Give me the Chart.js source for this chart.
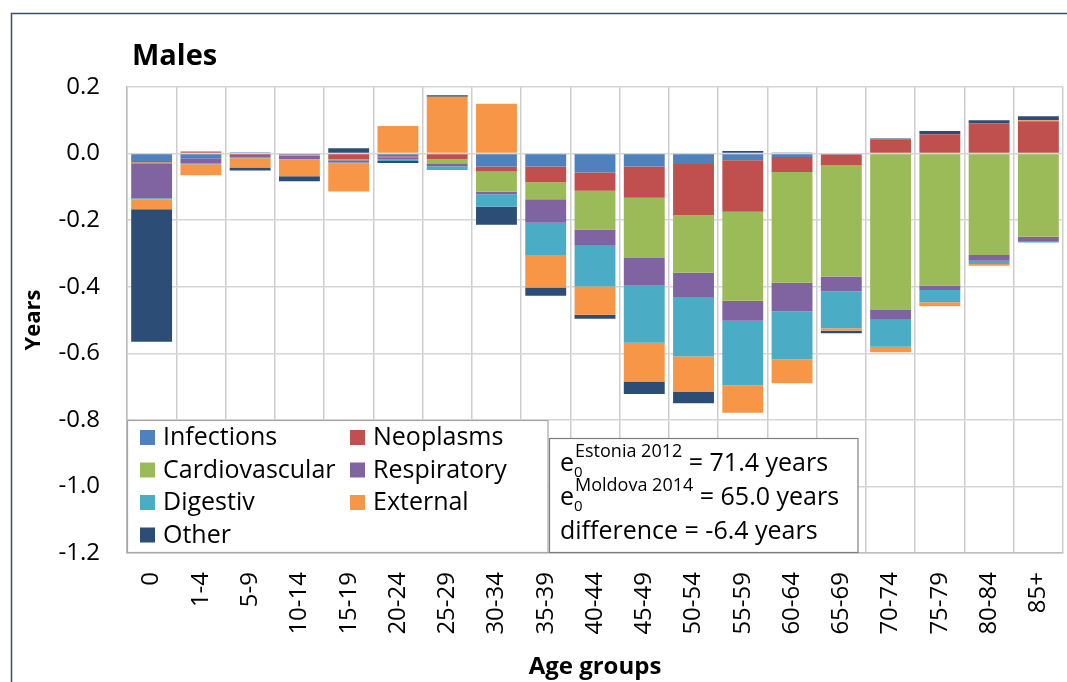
<!DOCTYPE html>
<html>
<head>
<meta charset="utf-8">
<script src="https://cdn.jsdelivr.net/npm/chart.js@4.4.1/dist/chart.umd.min.js"></script>
<style>
  body { margin: 0; background: #fff; }
  canvas { display: block; }
</style>
</head>
<body>
<canvas id="chart" width="1067" height="682"></canvas>
<script>
// categorias del eje x
const ageGroups = ["0", "1-4", "5-9", "10-14", "15-19", "20-24", "25-29", "30-34", "35-39", "40-44",
  "45-49", "50-54", "55-59", "60-64", "65-69", "70-74", "75-79", "80-84", "85+"];

// contribucion de cada causa (años)
const infections = [-0.025, -0.014, 0.004, -0.003, -0.002, -0.008, 0, -0.039, -0.039, -0.057,
  -0.039, -0.031, -0.020, -0.010, -0.003, 0, 0, 0, 0];
const neoplasms = [-0.002, 0.006, -0.004, -0.002, -0.014, -0.004, -0.017, -0.015, -0.047, -0.055,
  -0.094, -0.154, -0.155, -0.045, -0.031, 0.043, 0.058, 0.090, 0.097];
const cardiovascular = [-0.002, 0, 0, -0.002, -0.004, 0, -0.014, -0.061, -0.051, -0.116,
  -0.181, -0.173, -0.267, -0.333, -0.335, -0.470, -0.396, -0.305, -0.250];
const respiratory = [-0.105, -0.016, -0.008, -0.009, -0.007, -0.006, -0.007, -0.007, -0.071, -0.049,
  -0.081, -0.075, -0.060, -0.086, -0.045, -0.029, -0.014, -0.017, -0.015];
const digestiv = [-0.003, -0.002, -0.002, -0.001, -0.002, -0.004, -0.011, -0.038, -0.097, -0.122,
  -0.173, -0.177, -0.194, -0.145, -0.111, -0.081, -0.037, -0.010, -0.002];
const external = [-0.030, -0.033, -0.028, -0.051, -0.085, 0.083, 0.171, 0.150, -0.097, -0.085,
  -0.117, -0.106, -0.083, -0.071, -0.007, -0.017, -0.012, -0.005, 0.003];
const other = [-0.398, 0, -0.009, -0.015, 0.016, -0.006, 0.004, -0.054, -0.025, -0.012,
  -0.037, -0.034, 0.008, 0.002, -0.008, 0.002, 0.010, 0.010, 0.012];

// marcas del eje y
const yTicks = [0.2, 0.0, -0.2, -0.4, -0.6, -0.8, -1.0, -1.2];

// textos del cuadro de esperanza de vida
const e0Lines = [
  { country: "Estonia 2012", value: "= 71.4 years" },
  { country: "Moldova 2014", value: "= 65.0 years" },
];
const diffText = "difference = -6.4 years";

const FONT = '"Open Sans", "DejaVu Sans", sans-serif';

// marco exterior y titulo
const framePlugin = {
  id: "frame",
  beforeDraw(chart) {
    const ctx = chart.ctx;
    ctx.save();
    ctx.fillStyle = "#fff";
    ctx.fillRect(0, 0, chart.width, chart.height);
    ctx.strokeStyle = "#35506c";
    ctx.lineWidth = 1.5;
    ctx.strokeRect(11.5, 13.5, chart.width + 10, chart.height + 10);
    ctx.fillStyle = "#000";
    ctx.font = "bold 29px " + FONT;
    ctx.textBaseline = "alphabetic";
    ctx.fillText("Males", 132, 65);
    ctx.restore();
  },
};

// leyenda en dos columnas y cuadro de texto dentro del grafico
const boxesPlugin = {
  id: "boxes",
  afterDraw(chart) {
    const ctx = chart.ctx;
    ctx.save();
    ctx.lineWidth = 1.2;

    ctx.fillStyle = "#fff";
    ctx.fillRect(127, 420, 421, 133);
    ctx.strokeStyle = "#a6a6a6";
    ctx.strokeRect(127.5, 420.5, 420.5, 132);

    ctx.font = "25px " + FONT;
    ctx.textBaseline = "middle";
    chart.data.datasets.forEach((ds, i) => {
      const x = i % 2 ? 350 : 140;
      const y = 437 + Math.floor(i / 2) * 32.5;
      ctx.fillStyle = ds.backgroundColor;
      ctx.fillRect(x, y - 7, 15, 15);
      ctx.fillStyle = "#000";
      ctx.fillText(ds.label, x + 23, y + 1);
    });

    ctx.fillStyle = "#fff";
    ctx.fillRect(549, 438, 309, 115);
    ctx.strokeStyle = "#7f7f7f";
    ctx.strokeRect(549.5, 438.5, 308.5, 114);

    ctx.fillStyle = "#000";
    ctx.textBaseline = "alphabetic";
    const x0 = 560;
    e0Lines.forEach((line, i) => {
      const yb = 471 + i * 34;
      ctx.font = "25px " + FONT;
      ctx.fillText("e", x0, yb);
      const we = ctx.measureText("e").width;
      ctx.font = "15px " + FONT;
      ctx.fillText("0", x0 + we, yb + 6);
      ctx.font = "18px " + FONT;
      ctx.fillText(line.country, x0 + we + 1, yb - 14);
      const ws = ctx.measureText(line.country).width;
      ctx.font = "25px " + FONT;
      ctx.fillText(" " + line.value, x0 + we + 1 + ws, yb);
    });
    ctx.font = "25px " + FONT;
    ctx.fillText(diffText, x0, 539);
    ctx.restore();
  },
};

const makeSet = (label, data, color) => ({
  label: label,
  data: data,
  backgroundColor: color,
  borderWidth: 0,
  barPercentage: 0.83,
  categoryPercentage: 1,
});

const ctx = document.getElementById("chart").getContext("2d");
new Chart(ctx, {
  type: "bar",
  data: {
    labels: ageGroups,
    datasets: [
      makeSet("Infections", infections, "#4f81bd"),
      makeSet("Neoplasms", neoplasms, "#c0504d"),
      makeSet("Cardiovascular", cardiovascular, "#9bbb59"),
      makeSet("Respiratory", respiratory, "#8064a2"),
      makeSet("Digestiv", digestiv, "#4bacc6"),
      makeSet("External", external, "#f79646"),
      makeSet("Other", other, "#2c4d75"),
    ],
  },
  options: {
    responsive: false,
    animation: false,
    layout: { padding: { left: 12, top: 87, right: 4, bottom: 0 } },
    plugins: { legend: { display: false }, title: { display: false }, tooltip: { enabled: false } },
    scales: {
      x: {
        stacked: true,
        afterFit: (scale) => {
          scale.height = 129;
          scale.paddingLeft = 0;
          scale.paddingRight = 0;
        },
        grid: { color: "#cdcdcd", lineWidth: 1.5, drawTicks: false },
        border: { color: "#bdbdbd", width: 1.5 },
        ticks: {
          color: "#000",
          font: { family: FONT, size: 24 },
          minRotation: 90,
          maxRotation: 90,
          padding: 19,
          autoSkip: false,
        },
        title: {
          display: true,
          text: "Age groups",
          color: "#000",
          font: { family: FONT, size: 24, weight: "bold" },
          padding: { top: 0, bottom: 0 },
        },
      },
      y: {
        stacked: true,
        min: -1.2,
        max: 0.2,
        afterFit: (scale) => { scale.width = 115; },
        afterBuildTicks: (scale) => { scale.ticks = yTicks.map((v) => ({ value: v })); },
        grid: { color: "#d6d6d6", lineWidth: 1.5, drawTicks: false },
        border: { color: "#bdbdbd", width: 1.5 },
        ticks: {
          color: "#000",
          font: { family: FONT, size: 24 },
          padding: 27,
          callback: (v) => v.toFixed(1),
        },
        title: {
          display: true,
          text: "Years",
          color: "#000",
          font: { family: FONT, size: 22, weight: "bold" },
          padding: { top: 9, bottom: 0 },
        },
      },
    },
  },
  plugins: [framePlugin, boxesPlugin],
});
</script>
</body>
</html>
